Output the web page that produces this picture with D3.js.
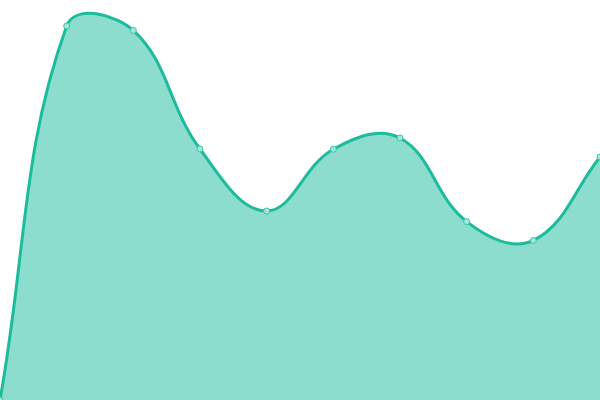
<!DOCTYPE html>
<html>
<head>
<meta charset="utf-8">
<script src="https://cdn.jsdelivr.net/npm/d3@7"></script>
<style>
html,body{margin:0;padding:0;background:#fff;}
svg{display:block;}
</style>
</head>
<body>
<script>
const categories = ["1","2","3","4","5","6","7","8","9","10"];
const values = [0, 93.5, 92.4, 62.75, 47.25, 62.7, 65.5, 44.6, 39.9, 60.75];
const yDomain = [0, 100];

const W = 600, H = 400;
const svg = d3.select("body").append("svg").attr("width", W).attr("height", H);

const x = d3.scalePoint().domain(categories).range([0, W]);
const y = d3.scaleLinear().domain(yDomain).range([H, 0]);

const pts = categories.map((c, i) => ({x: x(c), y: y(values[i])}));

// Chart.js-style spline control points (tension 0.4), capped to chart area
const tension = 0.4;
const ctrl = pts.map((cur, i) => {
  const prev = pts[i - 1] || cur, next = pts[i + 1] || cur;
  const d01 = Math.hypot(cur.x - prev.x, cur.y - prev.y);
  const d12 = Math.hypot(next.x - cur.x, next.y - cur.y);
  let s01 = d01 / (d01 + d12), s12 = d12 / (d01 + d12);
  if (isNaN(s01)) s01 = 0; if (isNaN(s12)) s12 = 0;
  const fa = tension * s01, fb = tension * s12;
  const cap = (p) => ({x: Math.max(0, Math.min(W, p.x)), y: Math.max(0, Math.min(H, p.y))});
  return {
    prev: cap({x: cur.x - fa * (next.x - prev.x), y: cur.y - fa * (next.y - prev.y)}),
    next: cap({x: cur.x + fb * (next.x - prev.x), y: cur.y + fb * (next.y - prev.y)})
  };
});

function linePath(p) {
  p.moveTo(pts[0].x, pts[0].y);
  for (let i = 1; i < pts.length; i++) {
    const a = ctrl[i - 1].next, b = ctrl[i].prev;
    p.bezierCurveTo(a.x, a.y, b.x, b.y, pts[i].x, pts[i].y);
  }
  return p;
}

const areaP = linePath(d3.path());
areaP.lineTo(pts[pts.length - 1].x, y(yDomain[0]));
areaP.lineTo(pts[0].x, y(yDomain[0]));
areaP.closePath();

svg.append("path").attr("d", areaP.toString())
  .attr("fill", "rgba(26,188,156,0.5)").attr("stroke", "none");

svg.append("path").attr("d", linePath(d3.path()).toString())
  .attr("fill", "none").attr("stroke", "#1abc9c").attr("stroke-width", 3)
  .attr("stroke-linejoin", "round");

svg.selectAll("circle.pt").data(categories).join("circle")
  .attr("class", "pt")
  .attr("cx", d => x(d))
  .attr("cy", (d, i) => y(values[i]))
  .attr("r", 3)
  .attr("fill", "#a3e8da")
  .attr("stroke", "#3cc4a8")
  .attr("stroke-width", 1);
</script>
</body>
</html>
